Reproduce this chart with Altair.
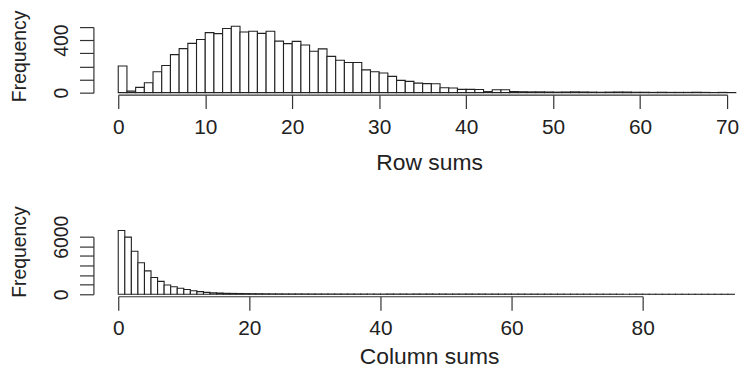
import altair as alt
import pandas as pd

# Row sums histogram (bins of width 1 starting at 0)
row_counts = [203, 12, 40, 75, 160, 207, 290, 336, 376, 406,
              458, 450, 489, 507, 463, 469, 452, 468, 393, 374,
              391, 363, 316, 334, 277, 247, 230, 230, 174, 160,
              150, 124, 94, 86, 73, 69, 68, 38, 35, 25,
              25, 24, 8, 22, 22, 9, 7, 6, 6, 5,
              4, 5, 6, 5, 4, 3, 4, 5, 4, 3,
              3, 2, 3, 2, 2, 2, 3, 2, 1, 2, 1]

# Column sums histogram (bins of width 1 starting at 0)
col_counts = [6650, 5950, 4480, 3280, 2440, 1750, 1340, 970, 790, 620,
              490, 370, 280, 200, 150, 120, 100, 90, 80, 70,
              62, 56, 50, 46, 42, 40, 38, 36, 34, 32,
              30, 29, 28, 27, 26, 25, 24, 23, 22, 21,
              20, 30, 22, 28, 20, 30, 24, 30, 22, 28,
              20, 26, 22, 28, 20, 26, 18, 24, 18, 22,
              16, 20, 14, 18, 12, 16, 12, 14, 10, 12,
              10, 12, 8, 10, 8, 10, 6, 8, 6, 8,
              4, 3, 3, 2, 2, 2, 2, 1, 1, 1, 1, 1, 1, 1]

row_ticks = [0, 10, 20, 30, 40, 50, 60, 70]
col_ticks = [0, 20, 40, 60, 80]
row_yticks = [0, 100, 200, 300, 400, 500]
col_yticks = [0, 1000, 2000, 3000, 4000, 5000, 6000]
row_ylabels = [0, 400]
col_ylabels = [0, 6000]

df_row = pd.DataFrame({"start": list(range(len(row_counts))), "count": row_counts})
df_col = pd.DataFrame({"start": list(range(len(col_counts))), "count": col_counts})

FONT = "Liberation Sans"
HFS = 21
TFS = 23
VFS = 19.5


def hist(df, xdom, xticks, xtitle, ydom, yticks, ylabels, w, h, title_y,
         lpad, tpad):
    lab = " || ".join(f"datum.value == {v}" for v in ylabels)
    return alt.Chart(df).transform_calculate(
        end="datum.start + 1", zero="0"
    ).mark_rect(fill="white", stroke="#222", strokeWidth=1.1).encode(
        x=alt.X("start:Q",
                scale=alt.Scale(domain=xdom, nice=False, zero=False),
                axis=alt.Axis(values=xticks, title=xtitle, tickSize=14, offset=2,
                              labelFontSize=HFS, titleFontSize=TFS,
                              labelPadding=lpad, titlePadding=tpad, titleX=313,
                              labelFlush=False, labelOverlap=False)),
        x2="end:Q",
        y=alt.Y("count:Q",
                scale=alt.Scale(domain=ydom, nice=False),
                axis=alt.Axis(values=yticks, title="Frequency", tickSize=14, offset=25,
                              format="d",
                              labelExpr=f"({lab}) ? datum.label : ''",
                              labelAngle=270, labelAlign="center", labelBaseline="bottom",
                              labelFontSize=VFS, titleFontSize=VFS,
                              labelPadding=8, titlePadding=22, titleY=title_y,
                              labelOverlap=False)),
        y2="zero:Q",
    ).properties(width=w, height=h)


top = hist(df_row, [0, 70], row_ticks, "Row sums", [0, 500], row_yticks, row_ylabels,
           613, 66, 29, 8, 14)
bottom = hist(df_col, [0, 80], col_ticks, "Column sums", [0, 6000], col_yticks, col_ylabels,
              528, 58, 15, 7, 8)

chart = alt.vconcat(top, bottom, spacing=31).properties(
    padding={"left": 2, "top": 0, "right": 0, "bottom": 0}, background="white"
).configure_view(stroke=None).configure_axis(
    grid=False, domainColor="#333", tickColor="#333", labelColor="#222",
    titleColor="#222", labelFont=FONT, titleFont=FONT, titleFontWeight="normal",
    domainWidth=1.2, tickWidth=1.2
)

chart.save("out.html", embed_options={"renderer": "svg", "actions": False})
